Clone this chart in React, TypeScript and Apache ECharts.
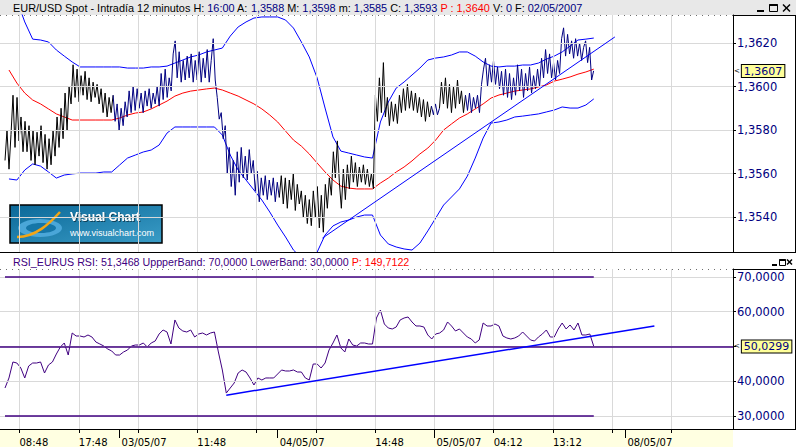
import React, { useEffect, useRef } from "react";
import * as echarts from "echarts";

// ---------- tick labels ----------
const gridTickBars = [0, 45, 90, 135, 180, 225, 270, 315, 360, 405, 450, 495];
const priceGridValues = [1.354, 1.356, 1.358, 1.36, 1.362];
const rsiGridValues = [30, 40, 50, 60, 70];
const timeTickBars = [0, 45, 135, 270, 360, 405];
const timeTickLabels = ["08:48", "17:48", "11:48", "14:48", "04:12", "13:12"];
const dateTickBars = [76, 196, 315, 460];
const dateTickLabels = ["03/05/07", "04/05/07", "05/05/07", "08/05/07"];

// ---------- sampling (bar = 12 minutes) ----------
const priceFirstBar = -11;
const priceBarStep = 1.52;
const rsiFirstBar = -11;
const rsiBarStep = 3;
const bandFirstBar = -8;
const bandBarStep = 6;

// ---------- EUR/USD price path (bar highs / lows) ----------
const pricePath = [
  1.3566, 1.358, 1.3562, 1.3578, 1.3596, 1.3572, 1.3595, 1.3575, 1.3586, 1.357,
  1.3584, 1.357, 1.3582, 1.3566, 1.358, 1.3564, 1.3579, 1.3568, 1.3582, 1.3565,
  1.3578, 1.3562, 1.3576, 1.3564, 1.358, 1.3568, 1.3586, 1.3572, 1.359, 1.3576,
  1.3597, 1.358, 1.36, 1.3592, 1.361, 1.3595, 1.3608, 1.3593, 1.3605, 1.3596,
  1.3607, 1.3594, 1.3604, 1.3593, 1.3602, 1.3595, 1.3601, 1.3592, 1.3599, 1.3588,
  1.3597, 1.3586, 1.3595, 1.3588, 1.3596, 1.3584, 1.3592, 1.358, 1.359, 1.3582,
  1.3593, 1.3586, 1.3598, 1.3588, 1.36, 1.3589, 1.3599, 1.359, 1.3597, 1.3588,
  1.3598, 1.3591, 1.3599, 1.359, 1.3597, 1.3592, 1.36, 1.3591, 1.3606, 1.3594,
  1.3608, 1.3595, 1.3604, 1.3598, 1.3615, 1.3621, 1.3604, 1.3616, 1.3602, 1.3612,
  1.3603, 1.3614, 1.3604, 1.3615, 1.3602, 1.3612, 1.3603, 1.3616, 1.3602, 1.3613,
  1.3604, 1.3617, 1.3602, 1.3612, 1.3622, 1.3603, 1.3595, 1.3585, 1.3588, 1.3576,
  1.3582, 1.356, 1.3572, 1.3554, 1.3566, 1.355, 1.357, 1.3556, 1.3572, 1.3558,
  1.3568, 1.3557, 1.3571, 1.356, 1.3566, 1.3552, 1.3561, 1.3547, 1.3558, 1.355,
  1.3559, 1.3548, 1.3557, 1.355, 1.3558, 1.3547, 1.3556, 1.3549, 1.3559, 1.3546,
  1.3558, 1.3544, 1.3557, 1.3548, 1.356, 1.3543, 1.3555, 1.3546, 1.3552, 1.354,
  1.355, 1.3537, 1.3548, 1.3536, 1.3552, 1.354, 1.3554, 1.3535, 1.355, 1.3533,
  1.3555, 1.3544, 1.3558, 1.355, 1.357, 1.3558, 1.3575, 1.3556, 1.3544, 1.3562,
  1.3548, 1.3564, 1.3553, 1.3568, 1.3556, 1.3565, 1.3554, 1.3563, 1.3556, 1.3564,
  1.3555, 1.3562, 1.3554, 1.356, 1.3553, 1.3596, 1.3584, 1.3604, 1.3588, 1.3611,
  1.3586, 1.3595, 1.3582, 1.3593, 1.3584, 1.3592, 1.3583, 1.3596, 1.3588, 1.3599,
  1.3589, 1.3601, 1.359, 1.3598, 1.3589, 1.3597, 1.3588, 1.3595, 1.3586, 1.3594,
  1.3584, 1.3593, 1.3586, 1.3591, 1.3587, 1.3592, 1.3587, 1.359, 1.3602, 1.3592,
  1.3604, 1.359, 1.3601, 1.3588, 1.36, 1.359, 1.3603, 1.3592, 1.3598, 1.3588,
  1.3596, 1.3589, 1.3597, 1.3588, 1.3595, 1.359, 1.3596, 1.3588, 1.3601, 1.3608,
  1.3613, 1.36, 1.361, 1.3602, 1.3612, 1.3601, 1.3609, 1.3599, 1.3607, 1.3596,
  1.3608, 1.3595, 1.3606, 1.3594, 1.3604, 1.3596, 1.361, 1.3598, 1.3608, 1.3595,
  1.3606, 1.3598, 1.3609, 1.3597, 1.3605, 1.3599, 1.3608, 1.36, 1.3613, 1.3604,
  1.3617, 1.3606, 1.3615, 1.3604, 1.3611, 1.3603, 1.3612, 1.3606, 1.3622, 1.3627,
  1.3614, 1.3624, 1.3615, 1.3621, 1.3613, 1.3622, 1.3614, 1.362, 1.3612, 1.3618,
  1.3621, 1.3611, 1.3618, 1.3603, 1.36072,
];

// ---------- Bollinger bands ----------
const upperBand = [
  1.36444, 1.36398, 1.36297, 1.36218, 1.36214, 1.36205, 1.36168, 1.3614, 1.36113, 1.3609,
  1.3609, 1.3609, 1.3609, 1.3609, 1.3609, 1.36085, 1.36085, 1.36085, 1.3609, 1.3609,
  1.36094, 1.36108, 1.36122, 1.36136, 1.36145, 1.36159, 1.36168, 1.36177, 1.36232, 1.36274,
  1.36297, 1.36315, 1.3632, 1.3632, 1.3632, 1.36306, 1.36269, 1.36205, 1.36136, 1.36039,
  1.35901, 1.35768, 1.35703, 1.35694, 1.35685, 1.35676, 1.35671, 1.35837, 1.35929, 1.35993,
  1.36021, 1.36053, 1.36085, 1.36122, 1.36131, 1.36136, 1.36145, 1.36159, 1.36159, 1.3614,
  1.36113, 1.36094, 1.3609, 1.36094, 1.36094, 1.36099, 1.36099, 1.36108, 1.36126, 1.3614,
  1.36159, 1.36186, 1.36214, 1.36218, 1.36223,
];
const middleBand = [
  1.36076, 1.36016, 1.3597, 1.35938, 1.3592, 1.35897, 1.35874, 1.3586, 1.35846, 1.35846,
  1.35846, 1.35846, 1.35846, 1.35846, 1.35855, 1.35869, 1.35878, 1.35883, 1.35897, 1.35915,
  1.35933, 1.35956, 1.3597, 1.35979, 1.35984, 1.35989, 1.35993, 1.35984, 1.3597, 1.35956,
  1.35938, 1.3592, 1.35897, 1.35869, 1.35837, 1.35795, 1.35754, 1.35726, 1.3569, 1.35648,
  1.35607, 1.3557, 1.35542, 1.35533, 1.35529, 1.35529, 1.35529, 1.35556, 1.35579, 1.35607,
  1.3563, 1.35658, 1.3569, 1.35717, 1.35754, 1.358, 1.35828, 1.35855, 1.35874, 1.35897,
  1.3592, 1.35947, 1.35961, 1.3597, 1.35979, 1.35984, 1.35989, 1.35998, 1.36007, 1.36025,
  1.36034, 1.36044, 1.36057, 1.36067, 1.3608,
];
const lowerBand = [
  1.35575, 1.3557, 1.35616, 1.35644, 1.35634, 1.35607, 1.35579, 1.35593, 1.35598, 1.35602,
  1.35602, 1.35602, 1.35607, 1.35607, 1.35639, 1.35671, 1.35685, 1.35699, 1.35708, 1.35731,
  1.35786, 1.35814, 1.35814, 1.35814, 1.35814, 1.35814, 1.35814, 1.35777, 1.35685, 1.35616,
  1.3557, 1.35524, 1.35478, 1.35423, 1.35363, 1.35308, 1.35248, 1.35212, 1.35202, 1.35239,
  1.35317, 1.35359, 1.35377, 1.35386, 1.354, 1.35409, 1.35409, 1.35317, 1.35276, 1.35262,
  1.35253, 1.35248, 1.3528, 1.35336, 1.35395, 1.35455, 1.35492, 1.35529, 1.35588, 1.35671,
  1.35763, 1.35832, 1.35837, 1.35846, 1.3586, 1.35864, 1.35869, 1.35874, 1.35883, 1.35892,
  1.35906, 1.35901, 1.35901, 1.35915, 1.35943,
];

// ---------- RSI ----------
const rsiValues = [
  38.06, 40.94, 45.54, 45.25, 43.81, 40.94, 44.39, 45.25, 45.25, 45.54,
  42.37, 44.68, 45.54, 47.84, 49.86, 51.01, 47.55, 53.88, 53.02, 53.02,
  52.73, 53.31, 52.73, 51.29, 50.72, 50.14, 49.28, 48.71, 47.55, 47.55,
  48.42, 48.99, 50.14, 50.43, 50.43, 51.01, 49.86, 51.01, 51.58, 53.6,
  54.75, 54.17, 50.72, 57.63, 55.32, 54.46, 54.17, 54.75, 52.73, 53.6,
  53.88, 53.31, 53.88, 54.17, 48.42, 43.24, 36.6, 38.06, 39.5, 42.37,
  43.24, 42.66, 40.94, 38.92, 40.94, 40.36, 40.94, 40.94, 40.94, 42.09,
  43.24, 42.95, 42.95, 43.24, 42.66, 42.66, 40.94, 40.36, 44.96, 44.96,
  43.81, 45.25, 48.99, 51.01, 53.31, 49.57, 48.42, 52.16, 50.43, 50.14,
  51.01, 51.01, 50.72, 50.72, 58.2, 60.5, 56.47, 55.32, 55.04, 55.61,
  57.63, 58.2, 58.49, 57.05, 55.9, 55.9, 55.61, 53.31, 52.16, 53.6,
  53.88, 54.75, 57.05, 55.9, 54.46, 55.04, 53.88, 52.73, 52.16, 51.01,
  51.87, 56.76, 55.9, 55.9, 56.47, 55.9, 53.02, 52.45, 52.16, 52.45,
  53.02, 54.17, 53.02, 51.87, 51.58, 52.73, 53.6, 54.75, 52.73, 52.73,
  55.04, 56.76, 55.04, 56.19, 54.75, 56.76, 53.31, 53.31, 53.6, 50.0299,
];
const rsiUpperBand = 70;
const rsiLowerBand = 30;
const rsiMidLine = 50;

// ---------- trend lines ----------
const priceTrendBars = [230, 452];
const priceTrendValues = [1.35303, 1.36228];
const rsiTrendBars = [157, 482];
const rsiTrendValues = [36.0, 55.9];

// bars where the price colour switches (black / navy)
const colourChangeBars = [72.5, 198, 314, 319, 340];

// visible window
const viewBars = [-14.8, 541.7];
const priceRange = [1.35239, 1.36329];
const rsiRange = [26.26, 72.3];

// ---------- styling ----------
const NAVY = "#000080";
const BLUE = "#0000ff";
const RED = "#ff0000";
const PURPLE = "#400080";
const UI_FONT = "Liberation Sans";
const AXIS_FONT = "DejaVu Sans";
const gridLine = () => ({ color: "#6e6e6e", width: 1, type: [1, 5] });
const gridGuide = () => ({ color: "#d9d9d9", width: 1, type: "solid" });

const fmt4 = (v: number) => v.toFixed(4).replace(".", ",");
const toPairs = (vals: number[], first: number, step: number) =>
  vals.map((v, i) => [first + i * step, v]);

// faint guide lines under each grid line
function guideItems(yValues: number[]) {
  const item = (k: any) => ({ ...k, lineStyle: gridGuide(), label: { show: false } });
  return [...gridTickBars.map((b) => item({ xAxis: b })), ...yValues.map((v) => item({ yAxis: v }))];
}

// split the price path into coloured runs (black / navy) that share their end points
function priceRuns() {
  const pts = toPairs(pricePath, priceFirstBar, priceBarStep);
  const runs: { color: string; data: number[][] }[] = [];
  const colourAt = (bar: number) => {
    let k = 0;
    while (k < colourChangeBars.length && bar >= colourChangeBars[k]) k++;
    return k % 2 === 0 ? "#000000" : NAVY;
  };
  pts.forEach((p, i) => {
    const c = colourAt(p[0]);
    const last = runs[runs.length - 1];
    if (!last || last.color !== c) {
      const start = i > 0 ? [pts[i - 1]] : [];
      runs.push({ color: c, data: [...start, p] });
    } else {
      last.data.push(p);
    }
  });
  return runs;
}

function buildOption() {
  const lastPrice = pricePath[pricePath.length - 1];
  const lastRsi = rsiValues[rsiValues.length - 1];
  const firstBar = rsiFirstBar;
  const lastBar = rsiFirstBar + (rsiValues.length - 1) * rsiBarStep;

  const titleSegs: [string, string][] = [
    ["EUR/USD Spot - Intradía 12 minutos H: ", "k"],
    ["16:00", "v"],
    [" A: ", "k"],
    ["1,3588", "v"],
    [" M: ", "k"],
    ["1,3598", "v"],
    [" m: ", "k"],
    ["1,3585", "v"],
    [" C: ", "k"],
    ["1,3593", "v"],
    [" P : 1,3640", "r"],
    [" V: ", "k"],
    ["0", "v"],
    [" F: ", "k"],
    ["02/05/2007", "v"],
  ];
  const rsiSegs: [string, string][] = [
    ["RSI_EURUS RSI: 51,3468 UppperBand: 70,0000 LowerBand: 30,0000 ", "p"],
    ["P: 149,7122", "r"],
  ];
  const rich = (fs: number) => ({
    k: { color: "#000", fontSize: fs, fontFamily: UI_FONT },
    v: { color: NAVY, fontSize: fs, fontFamily: UI_FONT },
    r: { color: RED, fontSize: fs, fontFamily: UI_FONT },
    p: { color: PURPLE, fontSize: fs, fontFamily: UI_FONT },
  });
  const toRich = (segs: [string, string][]) => segs.map(([t, s]) => `{${s}|${t}}`).join("");

  const valueLabel = (color: string) => ({
    show: true,
    position: "end",
    distance: 1,
    formatter: (p: any) => `{a|<}{b|${fmt4(p.value)}}`,
    rich: {
      a: { color: "#000", fontSize: 7, fontFamily: AXIS_FONT, padding: [0, 2, 0, 0] },
      b: {
        color,
        fontSize: 11,
        fontFamily: AXIS_FONT,
        backgroundColor: "#ffff99",
        borderColor: "#000",
        borderWidth: 1,
        padding: [1, 2, 0, 2],
      },
    },
  });
  const hiddenLine = { color: "rgba(0,0,0,0)", width: 0 };

  const yAxisBase = (min: number, max: number, gridIndex: number, hidden: number[]) => ({
    type: "value",
    gridIndex,
    position: "right",
    min,
    max,
    axisLine: { show: true, onZero: false, lineStyle: { color: "#000" } },
    axisTick: { show: true, length: 3, lineStyle: { color: "#000" } },
    axisLabel: {
      showMinLabel: false,
      showMaxLabel: false,
      margin: 4,
      color: NAVY,
      fontFamily: AXIS_FONT,
      fontSize: 11.5,
      formatter: (v: number) => (hidden.indexOf(v) >= 0 ? "" : fmt4(v)),
    },
    splitLine: { show: true, lineStyle: gridLine() },
  });

  const runs = priceRuns();
  const priceSeries = runs.map((r, i) => ({
    name: "price",
    type: "line",
    xAxisIndex: 0,
    yAxisIndex: 0,
    data: r.data,
    symbol: "none",
    itemStyle: { color: r.color },
    lineStyle: { color: r.color, width: 1 },
    z: 4,
    ...(i === runs.length - 1
      ? {
          markLine: {
            silent: true,
            symbol: ["none", "none"],
            precision: 6,
            lineStyle: hiddenLine,
            label: valueLabel(NAVY),
            data: [{ yAxis: lastPrice }, ...guideItems(priceGridValues)],
          },
        }
      : {}),
  }));

  return {
    animation: false,
    title: [
      {
        left: 13,
        top: 2,
        padding: 0,
        text: toRich(titleSegs),
        textStyle: { fontSize: 10.9, fontFamily: UI_FONT, fontWeight: "normal", lineHeight: 12, rich: rich(10.9) },
      },
      {
        left: 13,
        top: 255.5,
        padding: 0,
        text: toRich(rsiSegs),
        textStyle: { fontSize: 10.7, fontFamily: UI_FONT, fontWeight: "normal", lineHeight: 12, rich: rich(10.7) },
      },
    ],
    grid: [
      { left: 0, top: 15, width: 733, height: 237 },
      { left: 0, top: 269, width: 733, height: 160 },
    ],
    xAxis: [
      {
        type: "value",
        gridIndex: 0,
        min: viewBars[0],
        max: viewBars[1],
        axisLine: { show: false, onZero: false },
        axisTick: { show: false, customValues: gridTickBars },
        axisLabel: { show: false },
        splitLine: { show: true, lineStyle: gridLine() },
      },
      {
        type: "value",
        gridIndex: 1,
        position: "bottom",
        min: viewBars[0],
        max: viewBars[1],
        axisLine: { show: true, onZero: false, lineStyle: { color: "#000", width: 1 } },
        axisTick: { show: true, length: 4, customValues: gridTickBars, lineStyle: { color: "#000" } },
        axisLabel: {
          show: true,
          customValues: timeTickBars,
          align: "left",
          margin: 8,
          color: "#000",
          fontFamily: AXIS_FONT,
          fontSize: 10,
          formatter: (v: number) => {
            const k = timeTickBars.indexOf(Math.round(v));
            return k >= 0 ? timeTickLabels[k] : "";
          },
        },
        splitLine: { show: true, lineStyle: gridLine() },
      },
      {
        type: "value",
        gridIndex: 1,
        position: "bottom",
        min: viewBars[0],
        max: viewBars[1],
        axisLine: { show: false, onZero: false },
        axisTick: { show: true, length: 9, customValues: dateTickBars, lineStyle: { color: "#000" } },
        axisLabel: {
          show: true,
          customValues: dateTickBars,
          align: "left",
          margin: 8,
          padding: [0, 0, 0, 2],
          color: "#000",
          fontFamily: AXIS_FONT,
          fontSize: 10,
          formatter: (v: number) => {
            const k = dateTickBars.indexOf(Math.round(v));
            return k >= 0 ? dateTickLabels[k] : "";
          },
        },
        splitLine: { show: false },
      },
    ],
    yAxis: [
      yAxisBase(priceRange[0], priceRange[1], 0, []),
      yAxisBase(rsiRange[0], rsiRange[1], 1, [rsiMidLine]),
    ],
    series: [
      ...priceSeries,
      {
        name: "upper",
        type: "line",
        xAxisIndex: 0,
        yAxisIndex: 0,
        data: toPairs(upperBand, bandFirstBar, bandBarStep),
        symbol: "none",
        itemStyle: { color: BLUE },
        lineStyle: { color: BLUE, width: 1 },
        z: 3,
      },
      {
        name: "middle",
        type: "line",
        xAxisIndex: 0,
        yAxisIndex: 0,
        data: toPairs(middleBand, bandFirstBar, bandBarStep),
        symbol: "none",
        itemStyle: { color: RED },
        lineStyle: { color: RED, width: 1 },
        z: 3,
      },
      {
        name: "lower",
        type: "line",
        xAxisIndex: 0,
        yAxisIndex: 0,
        data: toPairs(lowerBand, bandFirstBar, bandBarStep),
        symbol: "none",
        itemStyle: { color: BLUE },
        lineStyle: { color: BLUE, width: 1 },
        z: 3,
      },
      {
        name: "priceTrend",
        type: "line",
        xAxisIndex: 0,
        yAxisIndex: 0,
        data: priceTrendBars.map((b, i) => [b, priceTrendValues[i]]),
        symbol: "none",
        itemStyle: { color: BLUE },
        lineStyle: { color: BLUE, width: 1 },
        z: 5,
      },
      {
        name: "rsi",
        type: "line",
        xAxisIndex: 1,
        yAxisIndex: 1,
        data: toPairs(rsiValues, rsiFirstBar, rsiBarStep),
        symbol: "none",
        itemStyle: { color: PURPLE },
        lineStyle: { color: PURPLE, width: 1 },
        z: 4,
        markLine: {
          silent: true,
          symbol: ["none", "none"],
          precision: 6,
          data: [
            ...guideItems(rsiGridValues),
            { yAxis: rsiMidLine, lineStyle: { color: PURPLE, width: 1.5, type: "solid" }, label: { show: false } },
            { yAxis: lastRsi, lineStyle: hiddenLine, label: valueLabel(NAVY) },
          ],
        },
      },
      {
        name: "rsiUpper",
        type: "line",
        xAxisIndex: 1,
        yAxisIndex: 1,
        data: [[firstBar, rsiUpperBand], [lastBar, rsiUpperBand]],
        symbol: "none",
        itemStyle: { color: PURPLE },
        lineStyle: { color: PURPLE, width: 1.5 },
        z: 5,
      },
      {
        name: "rsiLower",
        type: "line",
        xAxisIndex: 1,
        yAxisIndex: 1,
        data: [[firstBar, rsiLowerBand], [lastBar, rsiLowerBand]],
        symbol: "none",
        itemStyle: { color: PURPLE },
        lineStyle: { color: PURPLE, width: 1.5 },
        z: 5,
      },
      {
        name: "rsiTrend",
        type: "line",
        xAxisIndex: 1,
        yAxisIndex: 1,
        data: rsiTrendBars.map((b, i) => [b, rsiTrendValues[i]]),
        symbol: "none",
        itemStyle: { color: BLUE },
        lineStyle: { color: BLUE, width: 1.5 },
        z: 5,
      },
    ],
    graphic: [
      // title bar & x band backgrounds
      { type: "rect", z: -10, shape: { x: 0, y: 0, width: 796, height: 15 }, style: { fill: "#e8e8e8" } },
      { type: "rect", z: -10, shape: { x: 0, y: 430, width: 733, height: 17 }, style: { fill: "#ffffe1" } },
      // frame lines
      { type: "line", z: 10, shape: { x1: 0, y1: 252.5, x2: 796, y2: 252.5 }, style: { stroke: "#000", lineWidth: 1 } },
      { type: "line", z: 10, shape: { x1: 733, y1: 15.5, x2: 796, y2: 15.5 }, style: { stroke: "#000", lineWidth: 1 } },
      { type: "line", z: 10, shape: { x1: 795.5, y1: 15, x2: 795.5, y2: 253 }, style: { stroke: "#000", lineWidth: 1 } },
      { type: "line", z: 10, shape: { x1: 733, y1: 269.5, x2: 796, y2: 269.5 }, style: { stroke: "#000", lineWidth: 1 } },
      { type: "line", z: 10, shape: { x1: 795.5, y1: 269, x2: 795.5, y2: 430 }, style: { stroke: "#000", lineWidth: 1 } },
      { type: "line", z: 10, shape: { x1: 733, y1: 429.5, x2: 796, y2: 429.5 }, style: { stroke: "#000", lineWidth: 1 } },
      // window buttons (top)
      { type: "line", z: 10, shape: { x1: 757, y1: 11, x2: 764, y2: 11 }, style: { stroke: "#000", lineWidth: 2 } },
      { type: "rect", z: 10, shape: { x: 769.5, y: 4.5, width: 8, height: 7 }, style: { fill: "none", stroke: "#000", lineWidth: 1 } },
      { type: "line", z: 10, shape: { x1: 769.5, y1: 5, x2: 777.5, y2: 5 }, style: { stroke: "#000", lineWidth: 2 } },
      { type: "line", z: 10, shape: { x1: 783, y1: 4.5, x2: 790, y2: 11.5 }, style: { stroke: "#000", lineWidth: 1.5 } },
      { type: "line", z: 10, shape: { x1: 790, y1: 4.5, x2: 783, y2: 11.5 }, style: { stroke: "#000", lineWidth: 1.5 } },
      // window buttons (RSI)
      { type: "line", z: 10, shape: { x1: 772, y1: 265, x2: 777, y2: 265 }, style: { stroke: "#000", lineWidth: 2 } },
      { type: "rect", z: 10, shape: { x: 779.5, y: 259.5, width: 6, height: 6 }, style: { fill: "none", stroke: "#000", lineWidth: 1 } },
      { type: "line", z: 10, shape: { x1: 779.5, y1: 260, x2: 785.5, y2: 260 }, style: { stroke: "#000", lineWidth: 2 } },
      { type: "line", z: 10, shape: { x1: 787, y1: 259.5, x2: 792, y2: 264.5 }, style: { stroke: "#000", lineWidth: 1.5 } },
      { type: "line", z: 10, shape: { x1: 792, y1: 259.5, x2: 787, y2: 264.5 }, style: { stroke: "#000", lineWidth: 1.5 } },
      // Visual Chart logo
      {
        type: "group",
        x: 10,
        y: 205,
        z: 20,
        children: [
          {
            type: "rect",
            shape: { x: 0, y: 0, width: 152, height: 38 },
            style: {
              fill: new echarts.graphic.LinearGradient(0, 0, 1, 1, [
                { offset: 0, color: "#0b6898" },
                { offset: 1, color: "#3a9cc6" },
              ]),
              stroke: "#000",
              lineWidth: 1.5,
            },
          },
          { type: "ellipse", shape: { cx: 30, cy: 23, rx: 22, ry: 9 }, style: { fill: "#4aa6d8" } },
          { type: "ellipse", shape: { cx: 31, cy: 23, rx: 15, ry: 5 }, style: { fill: "#1576a8" } },
          {
            type: "bezierCurve",
            shape: { x1: 7, y1: 32, x2: 50, y2: 7, cpx1: 26, cpy1: 32, cpx2: 40, cpy2: 18 },
            style: { stroke: "#f2a516", lineWidth: 2.5, fill: "none" },
          },
          {
            type: "text",
            x: 60,
            y: 6,
            style: {
              text: "Visual Chart",
              fill: "#ffffff",
              font: `bold 12px ${UI_FONT}`,
              textShadowColor: "rgba(0,0,0,0.5)",
              textShadowBlur: 1,
              textShadowOffsetX: 1,
              textShadowOffsetY: 1,
            },
          },
          {
            type: "text",
            x: 60,
            y: 23,
            style: { text: "www.visualchart.com", fill: "#ffffff", font: `9px ${UI_FONT}` },
          },
        ],
      },
    ],
  };
}

export default function App() {
  const ref = useRef<HTMLDivElement>(null);
  useEffect(() => {
    if (!ref.current) return;
    const chart = echarts.init(ref.current, null, { renderer: "svg" });
    chart.setOption(buildOption() as any);
    return () => chart.dispose();
  }, []);
  return (
    <div
      ref={ref}
      style={{ position: "fixed", left: 0, top: 0, width: 796, height: 447, background: "#fff" }}
    />
  );
}
